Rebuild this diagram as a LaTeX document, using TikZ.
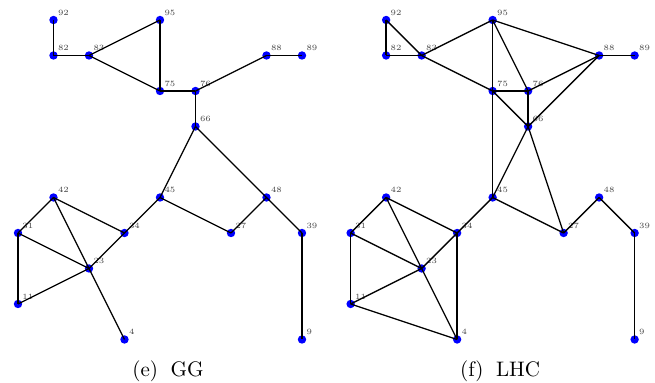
\documentclass[tikz,border=0pt]{standalone}
\usepackage{tikz}

\begin{document}
\begin{tikzpicture}[
    x=17.75pt, y=-17.75pt,
    vtx/.style={circle, fill=blue, inner sep=0pt, minimum size=4.2pt},
    lbl/.style={font=\fontsize{4}{5}\selectfont, text=gray!55!black, inner sep=0pt, label distance=0.6pt},
    edge/.style={draw=black, line width=0.65pt},
    subcap/.style={font=\fontsize{10.5}{12}\selectfont, anchor=base},
]
    \useasboundingbox (-0.507,-0.563) rectangle (17.944,10.225);

    \foreach \p/\s in {e/0, f/9.37} {
        \foreach \n/\c/\r in {92/1/0, 82/1/1, 83/2/1, 95/4/0, 75/4/2, 76/5/2, 66/5/3, 88/7/1, 89/8/1,
                              45/4/5, 48/7/5, 42/1/5, 31/0/6, 34/3/6, 27/6/6, 39/8/6, 23/2/7, 11/0/8, 4/3/9, 9/8/9}
            \node[vtx, label={[lbl]above right:\n}] (\p\n) at (\c+\s,\r) {};
    }

    \foreach \a/\b in {92/82, 82/83, 83/95, 83/75, 95/75, 75/76, 76/88, 88/89, 76/66, 66/45, 66/48,
                       45/27, 48/27, 48/39, 39/9, 45/34, 34/23, 42/34, 42/31, 42/23, 31/23, 31/11, 11/23, 23/4}
        \draw[edge] (e\a.center) -- (e\b.center);

    \foreach \a/\b in {92/82, 92/83, 82/83, 83/95, 83/75, 95/75, 95/76, 95/88, 75/76, 75/66, 76/66, 76/88,
                       66/88, 88/89, 75/45, 66/45, 66/27, 45/34, 45/27, 27/48, 48/39, 39/9, 42/31, 42/23,
                       42/34, 31/23, 31/11, 11/23, 11/4, 23/4, 34/23, 34/4}
        \draw[edge] (f\a.center) -- (f\b.center);

    \node[subcap] (capGG) at (4.225,10.03) {(e)\hspace{0.6em}GG};
    \node[subcap] (capLHC) at (13.58,10.03) {(f)\hspace{0.6em}LHC};
\end{tikzpicture}
\end{document}
